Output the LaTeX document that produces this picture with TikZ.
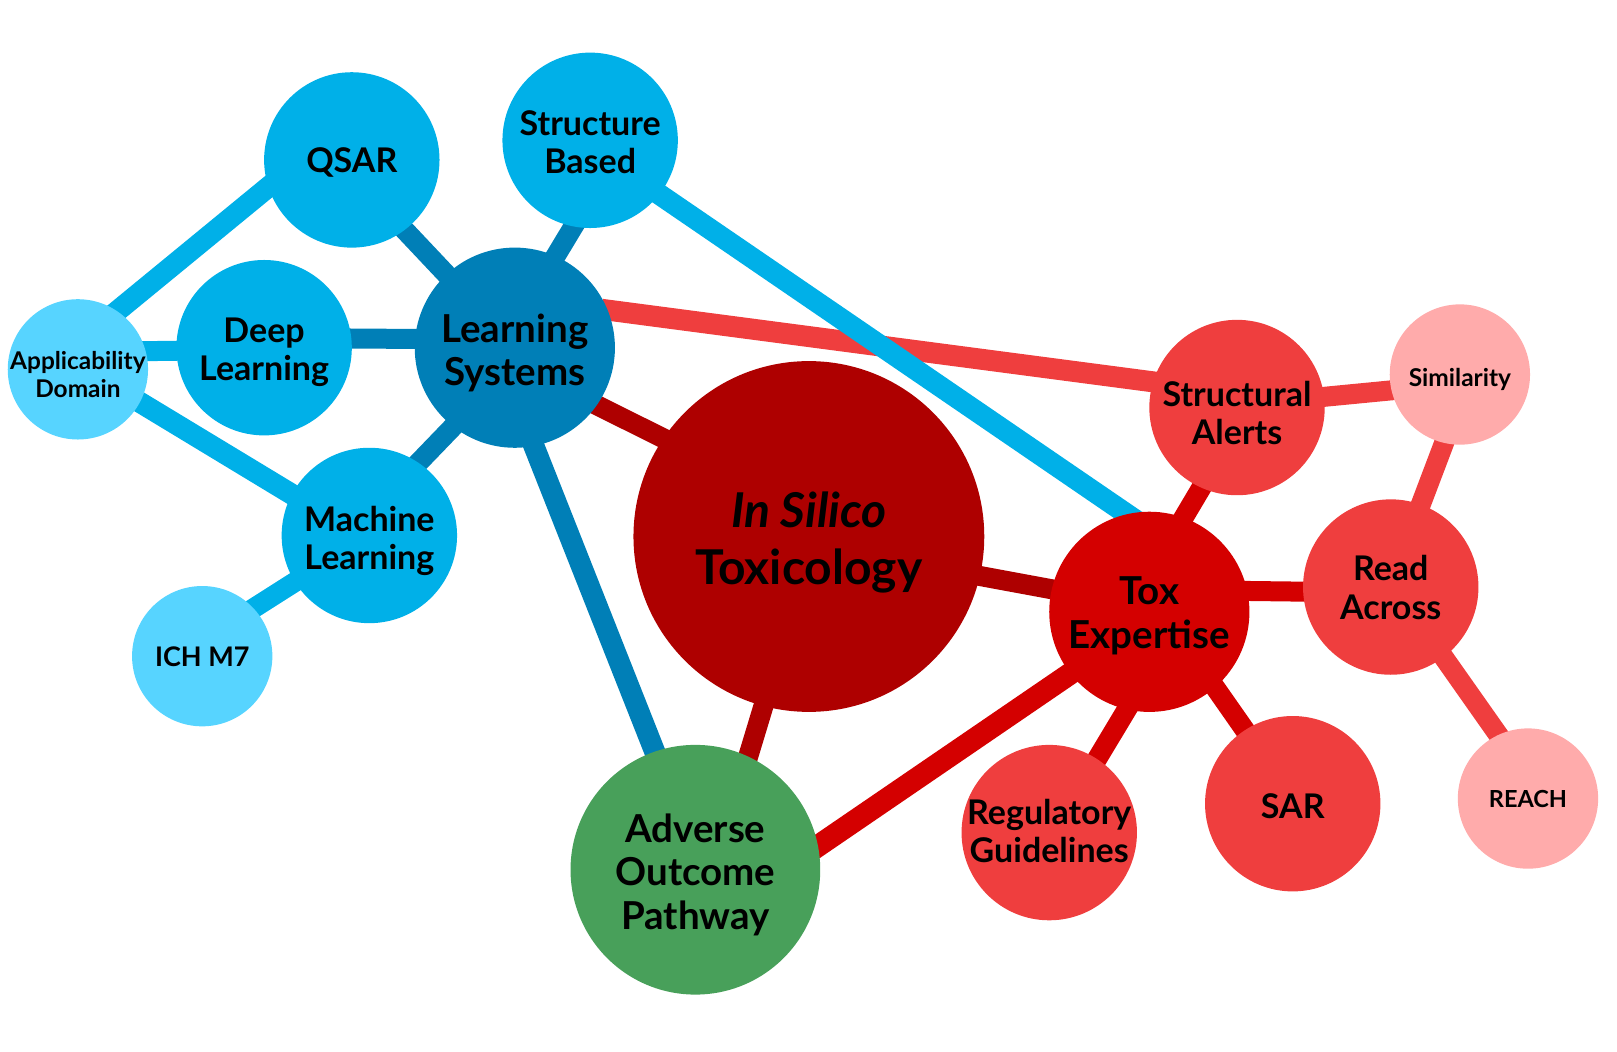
\documentclass[tikz,border=0pt]{standalone}
\usepackage{fontspec}
\setmainfont{Lato}
\usetikzlibrary{backgrounds}
\definecolor{cIS}{HTML}{AE0000}
\definecolor{cLS}{HTML}{007FB7}
\definecolor{cBlue}{HTML}{00B0E8}
\definecolor{cSky}{HTML}{57D4FF}
\definecolor{cTox}{HTML}{D40000}
\definecolor{cRed}{HTML}{EF3E3E}
\definecolor{cPink}{HTML}{FFABAB}
\definecolor{cGreen}{HTML}{48A05A}
\newcommand\bublab[2]{\raisebox{\dimexpr-.384em-#1pt\relax}[0pt][0pt]{\begin{tabular}[c]{@{}c@{}}#2\end{tabular}}}
\tikzset{
  bub/.style={circle,inner sep=0pt,text=black},
  big/.style={bub,minimum size=175.4pt,font=\fontsize{34}{38.5}\selectfont\bfseries},
  mid/.style={bub,minimum size=200.2pt,font=\fontsize{38.5}{43.5}\selectfont\bfseries},
  small/.style={bub,minimum size=140.3pt},
  edge/.style={line width=20pt,shorten >=-6pt,shorten <=-6pt},
  thick edge/.style={edge,line width=21pt},
}
\begin{document}
\begin{tikzpicture}[x=1.0317pt,y=-1.0317pt]
\useasboundingbox (0,0) rectangle (1567.3,1018.7);
\node[bub,fill=cIS,minimum size=350.8pt,font=\fontsize{48}{56.5}\selectfont\bfseries] (is) at (784,520) {\bublab{-4}{\textit{In Silico}\\Toxicology}};
\node[mid,fill=cLS] (ls) at (499,337) {\bublab{-1}{Learning\\Systems}};
\node[mid,fill=cTox] (tox) at (1114,593) {\bublab{-2.5}{Tox\\Expertise}};
\node[mid,minimum size=249.7pt,fill=cGreen] (aop) at (674,843) {\bublab{-1.5}{Adverse\\Outcome\\Pathway}};
\node[big,fill=cBlue] (qsar) at (341,155) {\bublab{-2}{QSAR}};
\node[big,fill=cBlue] (sb) at (572,136) {\bublab{-0.5}{Structure\\Based}};
\node[big,fill=cBlue] (dl) at (256,337) {\bublab{-0.5}{Deep\\Learning}};
\node[big,fill=cBlue] (ml) at (358,519) {\bublab{0.5}{Machine\\Learning}};
\node[big,fill=cRed] (sa) at (1199,395) {\bublab{3.5}{Structural\\Alerts}};
\node[big,fill=cRed] (ra) at (1348,569) {\bublab{-1.5}{Read\\Across}};
\node[big,fill=cRed] (sar) at (1253,779) {\bublab{0}{SAR}};
\node[big,fill=cRed] (reg) at (1017,807) {\bublab{-3.5}{Regulatory\\Guidelines}};
\node[small,fill=cSky,font=\fontsize{24.4}{28}\selectfont\bfseries] (app) at (75.5,358) {\bublab{5.5}{Applicability\\Domain}};
\node[small,fill=cSky,font=\fontsize{27}{34}\selectfont\bfseries] (ich) at (196,636) {\bublab{-1}{ICH M7}};
\node[small,fill=cPink,font=\fontsize{24.5}{28}\selectfont\bfseries] (sim) at (1415,363) {\bublab{3}{Similarity}};
\node[small,fill=cPink,font=\fontsize{23.5}{28}\selectfont\bfseries] (reach) at (1481,774) {\bublab{1}{REACH}};
\begin{pgfonlayer}{background}
\draw[thick edge,cRed] (ls.22) -- (sa.163);
\draw[thick edge,cBlue,shorten >=-12pt] (sb.-38) -- (tox.103);
\draw[thick edge,cBlue] (qsar.198) -- (app.56);
\draw[edge,cBlue] (dl.182) -- (app.15);
\draw[thick edge,cBlue] (ml.152) -- (app.-28);
\draw[edge,cBlue] (ml.212) -- (ich.43);
\draw[edge,cLS] (qsar.-53) -- (ls.133);
\draw[edge,cLS] (sb.-101) -- (ls.66);
\draw[edge,cLS] (dl.6) -- (ls.175);
\draw[edge,cLS] (ml.56) -- (ls.232);
\draw[thick edge,cLS] (ls.-79) -- (aop.109);
\draw[edge,cIS] (ls.-35) -- (is.146);
\draw[edge,cIS] (is.-105) -- (aop.65);
\draw[edge,cIS] (is.-13) -- (tox.167);
\draw[edge,cTox,line width=22pt] (tox.218) -- (aop.11);
\draw[edge,cTox] (tox.70) -- (sa.246);
\draw[edge,cTox] (tox.12) -- (ra.183);
\draw[edge,cTox] (tox.257) -- (reg.57);
\draw[edge,cTox] (tox.-49) -- (sar.123);
\draw[edge,cRed] (sa.7) -- (sim.193);
\draw[edge,cRed] (sim.257) -- (ra.70);
\draw[edge,cRed] (ra.-53) -- (reach.115);
\end{pgfonlayer}
\end{tikzpicture}
\end{document}
